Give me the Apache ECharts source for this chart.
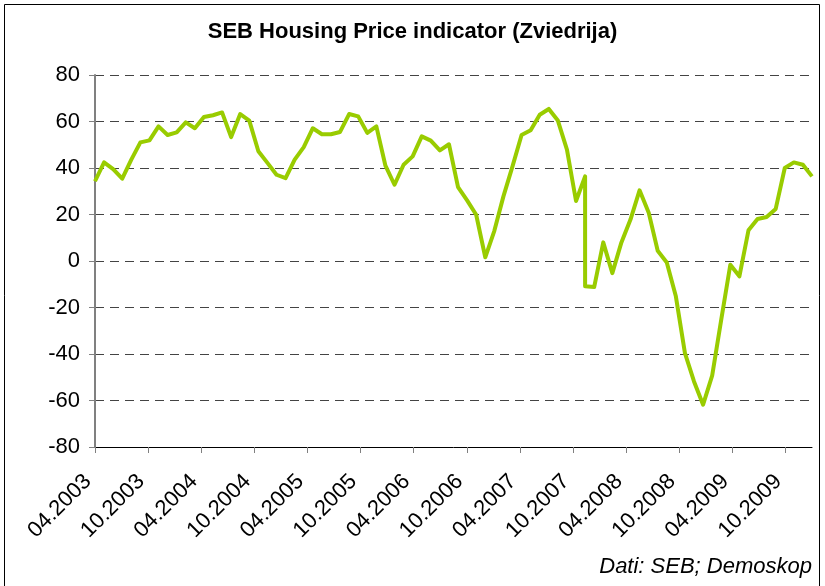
<!DOCTYPE html>
<html>
<head>
<meta charset="utf-8">
<script src="https://cdn.jsdelivr.net/npm/echarts@6/dist/echarts.min.js"></script>
<style>
html,body{margin:0;padding:0;background:#fff;}
#c{width:825px;height:586px;}
</style>
</head>
<body>
<div id="c"></div>
<script>
// Observation slots (the survey has two readings in slot 54)
const obsSlot = [0,1,2,3,4,5,6,7,8,9,10,11,12,13,14,15,16,17,18,19,
  20,21,22,23,24,25,26,27,28,29,30,31,32,33,34,35,36,37,38,39,
  40,41,42,43,44,45,46,47,48,49,50,51,52,53,54,54,55,56,57,58,59,
  60,61,62,63,64,65,66,67,68,69,70,71,72,73,74,75,76,77,78,79];
const hpiValues = [34.3,42.4,39.5,35.4,43.6,51.0,51.9,57.9,54.2,55.3,
  59.6,57.1,61.9,62.7,63.9,53.3,63.2,60.4,47.2,42.2,
  37.1,35.6,43.6,49.0,57.1,54.5,54.5,55.5,63.2,62.2,
  55.1,57.9,41.0,32.8,41.4,45.0,53.6,51.8,47.6,50.2,
  31.8,26.1,19.9,1.6,13.0,27.8,40.7,54.2,56.2,62.9,
  65.4,60.4,47.9,25.8,36.4,-10.9,-11.2,8.0,-5.2,8.0,17.8,
  30.4,20.9,4.4,-0.6,-15.2,-39.6,-51.8,-61.8,-49.3,-25.2,
  -1.6,-6.6,13.2,18.1,18.9,22.4,40.0,42.4,41.4,36.4];
const tickLabels = ['04.2003','10.2003','04.2004','10.2004','04.2005','10.2005','04.2006',
  '10.2006','04.2007','10.2007','04.2008','10.2008','04.2009','10.2009'];
const tickMonths = [0,6,12,18,24,30,36,42,48,54,60,66,72,78];
const monthsShown = 81;   // 04.2003 .. 01.2010 on the label axis
const yTicks = [-80,-60,-40,-20,0,20,40,60,80];

const FONT = 'Liberation Sans, Arial, sans-serif';
const chart = echarts.init(document.getElementById('c'), null, {renderer:'canvas'});
const seriesData = obsSlot.map((s,i)=>[s,hpiValues[i]]);

chart.setOption({
  animation:false,
  backgroundColor:'#fff',
  title:{
    text:'SEB Housing Price indicator (Zviedrija)',
    left:'center', top:16,
    textStyle:{fontFamily:FONT,fontWeight:'bold',fontSize:22,color:'#000'}
  },
  grid:{left:95,right:13,top:75,bottom:139,containLabel:false},
  xAxis:[{
    type:'value', min:0, max:monthsShown, interval:6, position:'bottom',
    axisLine:{show:true,onZero:false,lineStyle:{color:'#000',width:1}},
    axisTick:{show:true,length:6,customValues:tickMonths,lineStyle:{color:'#808080',width:1}},
    splitLine:{show:false},
    axisLabel:{
      rotate:45, margin:24, padding:[0,10,0,0],
      fontFamily:FONT, fontSize:22, color:'#000',
      customValues:tickMonths,
      formatter:function(v){ const k = tickMonths.indexOf(v); return k >= 0 ? tickLabels[k] : ''; }
    }
  },{
    type:'value', min:0, max:obsSlot[obsSlot.length-1], show:false
  }],
  yAxis:{
    type:'value', min:yTicks[0], max:yTicks[yTicks.length-1], interval:20,
    axisLine:{show:true,lineStyle:{color:'#808080',width:2}},
    axisTick:{show:true,length:6,lineStyle:{color:'#808080',width:1}},
    axisLabel:{fontFamily:FONT,fontSize:22,color:'#000',margin:15},
    splitLine:{show:true,lineStyle:{color:'#444',width:1,type:[9,6]}}
  },
  series:[{
    type:'line', xAxisIndex:1, data:seriesData,
    symbol:'none', smooth:false,
    lineStyle:{color:'#99CC00',width:4,join:'round'},
    itemStyle:{color:'#99CC00'}
  }],
  graphic:[{
    type:'rect', silent:true,
    shape:{x:4.5,y:4.5,width:815,height:620},
    style:{fill:'none',stroke:'#000',lineWidth:1}
  },{
    type:'text', silent:true,
    x:812, y:567,
    style:{text:'Dati: SEB; Demoskop',fontFamily:FONT,fontStyle:'italic',fontSize:22,
      fill:'#000',align:'right',verticalAlign:'middle'}
  }]
});
</script>
</body>
</html>
